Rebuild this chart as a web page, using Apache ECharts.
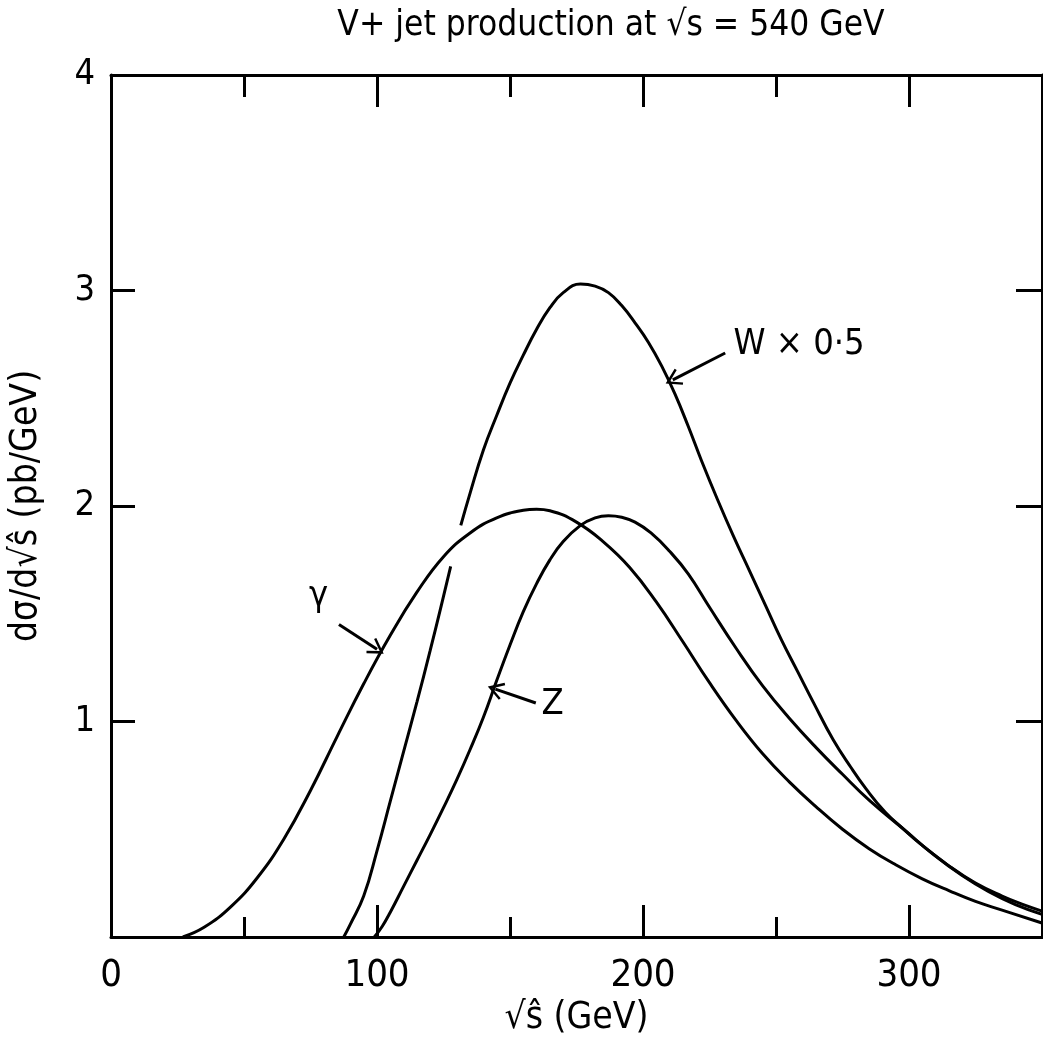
<!DOCTYPE html>
<html>
<head>
<meta charset="utf-8">
<script src="https://cdn.jsdelivr.net/npm/echarts@6/dist/echarts.min.js"></script>
<style>html,body{margin:0;padding:0;background:#fff}#c{width:1043px;height:1048px}</style>
</head>
<body>
<div id="c"></div>
<script>
// ---- data ----
const gammaX = [27, 35, 45, 55, 65, 75, 85, 95, 105, 115, 125, 135, 145, 155, 160, 165, 175, 185, 195, 205, 215, 225, 235, 245, 255, 265, 275, 285, 295, 305, 315, 325, 335, 350];
const gammaY = [0, 0.045, 0.14, 0.275, 0.455, 0.68, 0.93, 1.175, 1.40, 1.60, 1.765, 1.875, 1.945, 1.98, 1.985, 1.978, 1.925, 1.835, 1.715, 1.555, 1.37, 1.18, 1.005, 0.85, 0.72, 0.605, 0.50, 0.41, 0.335, 0.27, 0.215, 0.165, 0.125, 0.065];

const zX = [99, 102, 105, 110, 115, 120, 125, 130, 135, 140, 145, 150, 155, 160, 165, 170, 176.5, 182, 187, 192, 197, 203, 210, 217, 225, 235, 245, 255, 265, 275, 285, 298, 309, 320, 330, 340, 350];
const zY = [0, 0.05, 0.115, 0.235, 0.355, 0.475, 0.60, 0.73, 0.87, 1.02, 1.19, 1.355, 1.51, 1.64, 1.75, 1.835, 1.91, 1.945, 1.955, 1.948, 1.925, 1.875, 1.79, 1.685, 1.53, 1.34, 1.165, 1.015, 0.88, 0.755, 0.635, 0.50, 0.385, 0.285, 0.21, 0.15, 0.105];

// W x 0.5 : drawn in two pieces (gap where it passes the photon curve)
const wX = [87.5, 90, 95, 100, 105, 110, 115, 120, 124, 127.7, 129.6, 131.5, 135, 140, 145, 150, 155, 160, 165, 170, 176.5, 182, 187, 192, 197, 202, 207, 212, 217, 222, 228, 234, 240, 246, 252, 258, 264, 271.5, 278, 284, 291, 298, 305, 315, 325, 335, 343, 350];
const wY = [0, 0.06, 0.19, 0.40, 0.63, 0.86, 1.09, 1.33, 1.53, 1.72, '-', 1.91, 2.06, 2.26, 2.42, 2.57, 2.70, 2.82, 2.92, 2.99, 3.03, 3.02, 2.99, 2.93, 2.85, 2.76, 2.65, 2.52, 2.37, 2.21, 2.03, 1.86, 1.70, 1.54, 1.38, 1.235, 1.09, 0.915, 0.79, 0.685, 0.58, 0.50, 0.425, 0.33, 0.25, 0.19, 0.15, 0.12];

const xTickLabels = ['0', '100', '200', '300'];
const yTickLabels = ['1', '2', '3', '4'];

// annotation anchor points (data coordinates)
const gammaLabel = {text: 'γ', at: [78, 1.58]};
const gammaArrow = [[85.7, 1.45], [100, 1.335]];
const zLabel = {text: 'Z', at: [166, 1.077]};
const zArrow = [[159.7, 1.086], [144.5, 1.15]];
const wLabel = {text: 'W × 0·5', at: [234, 2.75]};
const wArrow = [[230.9, 2.71], [211.2, 2.585]];

const pairs = (xs, ys) => xs.map((x, i) => [x, ys[i]]);
const FONT = '"Liberation Sans Narrow", "DejaVu Sans Condensed", sans-serif';

const chart = echarts.init(document.getElementById('c'), null, {renderer: 'canvas'});

const lineStyle = {color: '#000', width: 3};
function curve(name, data, extra) {
  return Object.assign({
    name, type: 'line', data, smooth: 0.45, showSymbol: false, symbol: 'none',
    connectNulls: false, lineStyle, xAxisIndex: 0, yAxisIndex: 0, z: 3,
    animation: false
  }, extra || {});
}
// open chevron arrow head (points "up" in its own frame)
const CHEVRON = 'path://M0,0 L11,17 L8.5,18.5 L0,5.5 L-8.5,18.5 L-11,17 Z';
function arrow(pts) {
  return {
    silent: true, symbol: ['none', CHEVRON], symbolSize: [18, 16],
    lineStyle: {color: '#000', width: 3, type: 'solid'}, label: {show: false},
    emphasis: {disabled: true},
    data: [[{coord: pts[0]}, {coord: pts[1]}]], animation: false
  };
}
function label(l, align) {
  return {
    silent: true, symbol: 'circle', symbolSize: 0,
    label: {show: true, formatter: l.text, position: 'inside', color: '#000',
      fontFamily: FONT, fontSize: 36, align: align || 'center', verticalAlign: 'middle'},
    data: [{coord: l.at}], animation: false
  };
}

const axisLine = {show: true, onZero: false, lineStyle: {color: '#000', width: 3}};

chart.setOption({
  backgroundColor: '#fff',
  animation: false,
  title: {
    text: 'V+ jet production at √s = 540 GeV',
    left: 606, top: 3, textAlign: 'center',
    textStyle: {fontFamily: FONT, fontSize: 35, fontWeight: 'normal', color: '#000'}
  },
  grid: {left: 110, right: 1, top: 75, bottom: 111, containLabel: false},
  xAxis: [
    {
      type: 'value', min: 0, max: 350, interval: 100, position: 'bottom',
      axisLine,
      axisTick: {show: true, inside: true, length: 32, lineStyle: {color: '#000', width: 3}},
      minorTick: {show: true, splitNumber: 2, length: 20, lineStyle: {color: '#000', width: 3}},
      splitLine: {show: false},
      axisLabel: {
        show: true, margin: 20, color: '#000', fontFamily: FONT, fontSize: 38,
        showMaxLabel: false,
        formatter: v => (v % 100 === 0 && v / 100 < xTickLabels.length) ? xTickLabels[v / 100] : ''
      },
      name: '√ŝ (GeV)', nameLocation: 'middle', nameGap: 62,
      nameTextStyle: {fontFamily: FONT, fontSize: 37, color: '#000'}
    },
    {
      type: 'value', min: 0, max: 350, interval: 100, position: 'top',
      axisLine,
      axisTick: {show: true, inside: true, length: 32, lineStyle: {color: '#000', width: 3}},
      minorTick: {show: true, splitNumber: 2, length: 22, lineStyle: {color: '#000', width: 3}},
      splitLine: {show: false}, axisLabel: {show: false}
    }
  ],
  yAxis: [
    {
      type: 'value', min: 0, max: 4, interval: 1, position: 'left',
      axisLine,
      axisTick: {show: true, inside: true, length: 24, lineStyle: {color: '#000', width: 3}},
      splitLine: {show: false},
      axisLabel: {
        show: true, margin: 16, color: '#000', fontFamily: FONT, fontSize: 36,
        formatter: v => (v >= 1 && v <= 4) ? yTickLabels[v - 1] : ''
      },
      name: 'dσ/d√ŝ (pb/GeV)', nameLocation: 'middle', nameGap: 66, nameRotate: 90,
      nameTextStyle: {fontFamily: FONT, fontSize: 37, color: '#000'}
    },
    {
      type: 'value', min: 0, max: 4, interval: 1, position: 'right',
      axisLine,
      axisTick: {show: true, inside: true, length: 26, lineStyle: {color: '#000', width: 3}},
      splitLine: {show: false}, axisLabel: {show: false}
    }
  ],
  series: [
    curve('γ', pairs(gammaX, gammaY), {markLine: arrow(gammaArrow), markPoint: label(gammaLabel)}),
    curve('Z', pairs(zX, zY), {markLine: arrow(zArrow), markPoint: label(zLabel)}),
    curve('W × 0.5', pairs(wX, wY), {markLine: arrow(wArrow), markPoint: label(wLabel, 'left')})
  ]
});
</script>
</body>
</html>
